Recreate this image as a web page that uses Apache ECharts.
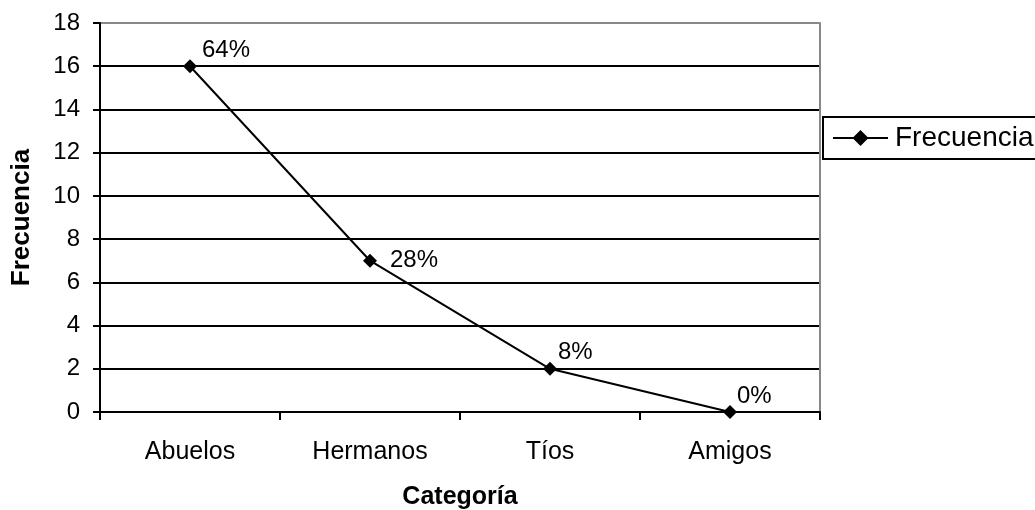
<!DOCTYPE html>
<html>
<head>
<meta charset="utf-8">
<script src="https://cdn.jsdelivr.net/npm/echarts@6/dist/echarts.min.js"></script>
<style>
html,body{margin:0;padding:0;background:#fff;}
#chart{width:1035px;height:510px;}
</style>
</head>
<body>
<div id="chart"></div>
<script>
var categories = ['Abuelos', 'Hermanos', 'Tíos', 'Amigos'];
var frecuencia = [16, 7, 2, 0];
var percentLabels = ['64%', '28%', '8%', '0%'];
var seriesName = 'Frecuencia';
var xAxisTitle = 'Categoría';
var yAxisTitle = 'Frecuencia';

var FONT = "'Liberation Sans', Arial, sans-serif";
var labelOffsets = [[0, -16], [8, 0], [-4, -16], [-5, -16]];

var chart = echarts.init(document.getElementById('chart'), null, {renderer: 'canvas'});
var splitColors = [];
for (var i = 0; i < 10; i++) splitColors.push(i === 9 ? '#888888' : '#000000');

var option = {
  backgroundColor: '#ffffff',
  animation: false,
  textStyle: {fontFamily: FONT},
  grid: {left: 100, top: 23, width: 720, height: 389, containLabel: false, outerBoundsMode: 'none'},
  legend: {
    show: true,
    left: 823, top: 117,
    orient: 'vertical',
    padding: [7, 30, 7, 9],
    itemWidth: 55, itemHeight: 20,
    borderColor: '#000', borderWidth: 2,
    textStyle: {fontFamily: FONT, fontSize: 28, color: '#000', padding: [0, 0, 0, 2]},
    data: [seriesName]
  },
  xAxis: {
    type: 'category',
    data: categories,
    boundaryGap: true,
    name: xAxisTitle,
    nameLocation: 'middle',
    nameGap: 73,
    nameTextStyle: {fontFamily: FONT, fontSize: 25, fontWeight: 'bold', color: '#000'},
    axisLine: {lineStyle: {color: '#000', width: 2}},
    axisTick: {show: true, length: 8, lineStyle: {color: '#000', width: 2}},
    axisLabel: {fontFamily: FONT, fontSize: 25, color: '#000', margin: 28},
    splitLine: {show: false}
  },
  yAxis: [{
    type: 'value',
    min: 0, max: 18, interval: 2,
    name: yAxisTitle,
    nameLocation: 'middle',
    nameGap: 65,
    nameRotate: 90,
    nameTextStyle: {fontFamily: FONT, fontSize: 26, fontWeight: 'bold', color: '#000'},
    axisLine: {show: true, lineStyle: {color: '#000', width: 2}},
    axisTick: {show: true, length: 7, lineStyle: {color: '#000', width: 2}},
    axisLabel: {fontFamily: FONT, fontSize: 24, color: '#000', margin: 20},
    splitLine: {show: true, lineStyle: {color: splitColors, width: 2}}
  }, {
    type: 'value',
    position: 'right',
    min: 0, max: 18, interval: 2,
    axisLine: {show: true, lineStyle: {color: '#888888', width: 2}},
    axisTick: {show: false},
    axisLabel: {show: false},
    splitLine: {show: false}
  }],
  series: [{
    name: seriesName,
    type: 'line',
    yAxisIndex: 0,
    data: frecuencia.map(function (v, i) {
      return {value: v, label: {offset: labelOffsets[i]}};
    }),
    symbol: 'diamond',
    symbolSize: 14,
    itemStyle: {color: '#000'},
    lineStyle: {color: '#000', width: 2},
    label: {
      show: true,
      position: 'right',
      distance: 5,
      fontFamily: FONT,
      fontSize: 24,
      color: '#000',
      formatter: function (p) { return percentLabels[p.dataIndex]; }
    }
  }]
};
chart.setOption(option);
</script>
</body>
</html>
